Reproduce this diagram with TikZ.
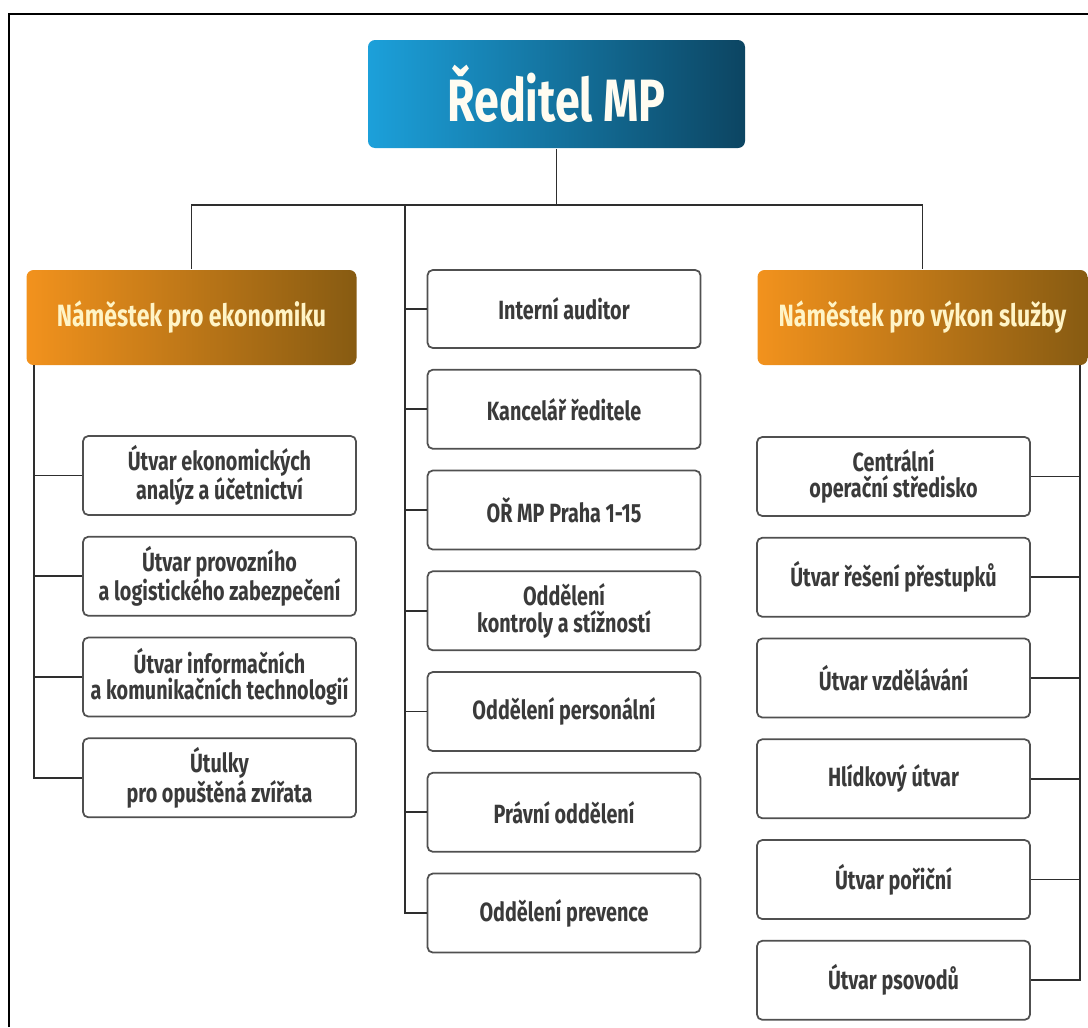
\documentclass[tikz,border=0pt]{standalone}
\usepackage{fontspec}
\setmainfont{Fira Sans}[FakeStretch=0.75]
\usepackage{tikz}
\usepackage{xcolor}
\usetikzlibrary{calc,positioning}
\definecolor{MPCyan}{HTML}{1CA0DA}
\definecolor{MPTeal}{HTML}{0C4562}
\definecolor{MPOrange}{HTML}{F2921D}
\definecolor{MPBrown}{HTML}{875B12}
\definecolor{MPCream}{HTML}{FFF4C6}
\definecolor{MPText}{HTML}{3A3A3A}
\definecolor{MPBorder}{HTML}{505050}
\definecolor{MPLine}{HTML}{2E2E2E}
\tikzset{
  orgBase/.style={
    font=\fontsize{15pt}{15pt}\selectfont\bfseries,
    align=center,
    inner sep=3pt,
    line width=1pt
  },
  orgTop/.style={
    orgBase,
    font=\fontsize{34pt}{36pt}\selectfont\bfseries,
    left color=MPCyan,
    right color=MPTeal,
    text=MPCream!25!white,
    rounded corners=4pt,
    minimum width=7.54cm,
    minimum height=2.16cm
  },
  orgDeputy/.style={
    orgBase,
    font=\fontsize{17.5pt}{19pt}\selectfont\bfseries,
    left color=MPOrange,
    right color=MPBrown,
    text=MPCream,
    rounded corners=4pt,
    minimum width=6.6cm,
    minimum height=1.9cm
  },
  orgUnit/.style={
    orgBase,
    fill=white,
    draw=MPBorder,
    text=MPText,
    rounded corners=3pt,
    minimum width=5.46cm,
    minimum height=1.58cm
  },
  orgLine/.style={
    line width=1pt,
    color=MPLine
  }
}

\begin{document}
\begin{tikzpicture}[node distance=0.40cm]
        \useasboundingbox (0,0) rectangle (21.76,-20.54);
        % frame
        \draw [line width=1.2pt] (0.18,-20.54) -- (0.18,-0.28) -- (21.76,-0.28);

        \node (dir) [orgTop] at (11.13,-1.88) {Ředitel MP};
        \node (eco) [orgDeputy] at (3.83,-6.35) {Náměstek pro ekonomiku};
        \node (srv) [orgDeputy] at (18.45,-6.35) {Náměstek pro výkon služby};

        % middle column
        \node (m1) [orgUnit, minimum height=1.56cm] at (11.28,-6.18) {Interní auditor};
        \node (m2) [orgUnit, below=of m1] {Kancelář ředitele};
        \node (m3) [orgUnit, below=of m2] {OŘ MP Praha 1-15};
        \node (m4) [orgUnit, below=of m3] {Oddělení\\kontroly a stížností};
        \node (m5) [orgUnit, below=of m4] {Oddělení personální};
        \node (m6) [orgUnit, below=of m5] {Právní oddělení};
        \node (m7) [orgUnit, below=of m6] {Oddělení prevence};

        % economy column
        \node (e1) [orgUnit] at (4.39,-9.51) {Útvar ekonomických\\analýz a účetnictví};
        \node (e2) [orgUnit, below=of e1] {Útvar provozního\\a logistického zabezpečení};
        \node (e3) [orgUnit, below=of e2] {Útvar informačních\\a komunikačních technologií};
        \node (e4) [orgUnit, below=of e3] {Útulky\\pro opuštěná zvířata};

        % service column
        \node (s1) [orgUnit] at (17.87,-9.53) {Centrální\\operační středisko};
        \node (s2) [orgUnit, below=of s1] {Útvar řešení přestupků};
        \node (s3) [orgUnit, below=of s2] {Útvar vzdělávání};
        \node (s4) [orgUnit, below=of s3] {Hlídkový útvar};
        \node (s5) [orgUnit, below=of s4] {Útvar pořiční};
        \node (s6) [orgUnit, below=of s5] {Útvar psovodů};

        \coordinate (bus) at (8.10,-4.10);
        \coordinate (ecoSpine) at (0.68,-7.30);
        \coordinate (srvSpine) at (21.60,-7.30);

        \draw [orgLine] (dir.south) -- (dir.south |- bus);
        \draw [orgLine] (eco.north) -- (eco.north |- bus) -- (srv.north |- bus) -- (srv.north);
        \draw [orgLine] (bus) |- (m7.west);
        \draw [orgLine] (m1.west) -- (m1.west -| bus);
        \draw [orgLine] (m2.west) -- (m2.west -| bus);
        \draw [orgLine] (m3.west) -- (m3.west -| bus);
        \draw [orgLine] (m4.west) -- (m4.west -| bus);
        \draw [orgLine] (m5.west) -- (m5.west -| bus);
        \draw [orgLine] (m6.west) -- (m6.west -| bus);

        \draw [orgLine] (ecoSpine) |- (e4.west);
        \draw [orgLine] (e1.west) -- (e1.west -| ecoSpine);
        \draw [orgLine] (e2.west) -- (e2.west -| ecoSpine);
        \draw [orgLine] (e3.west) -- (e3.west -| ecoSpine);

        \draw [orgLine] (srvSpine) |- (s6.east);
        \draw [orgLine] (s1.east) -- (s1.east -| srvSpine);
        \draw [orgLine] (s2.east) -- (s2.east -| srvSpine);
        \draw [orgLine] (s3.east) -- (s3.east -| srvSpine);
        \draw [orgLine] (s4.east) -- (s4.east -| srvSpine);
        \draw [orgLine] (s5.east) -- (s5.east -| srvSpine);
      \end{tikzpicture}
\end{document}
